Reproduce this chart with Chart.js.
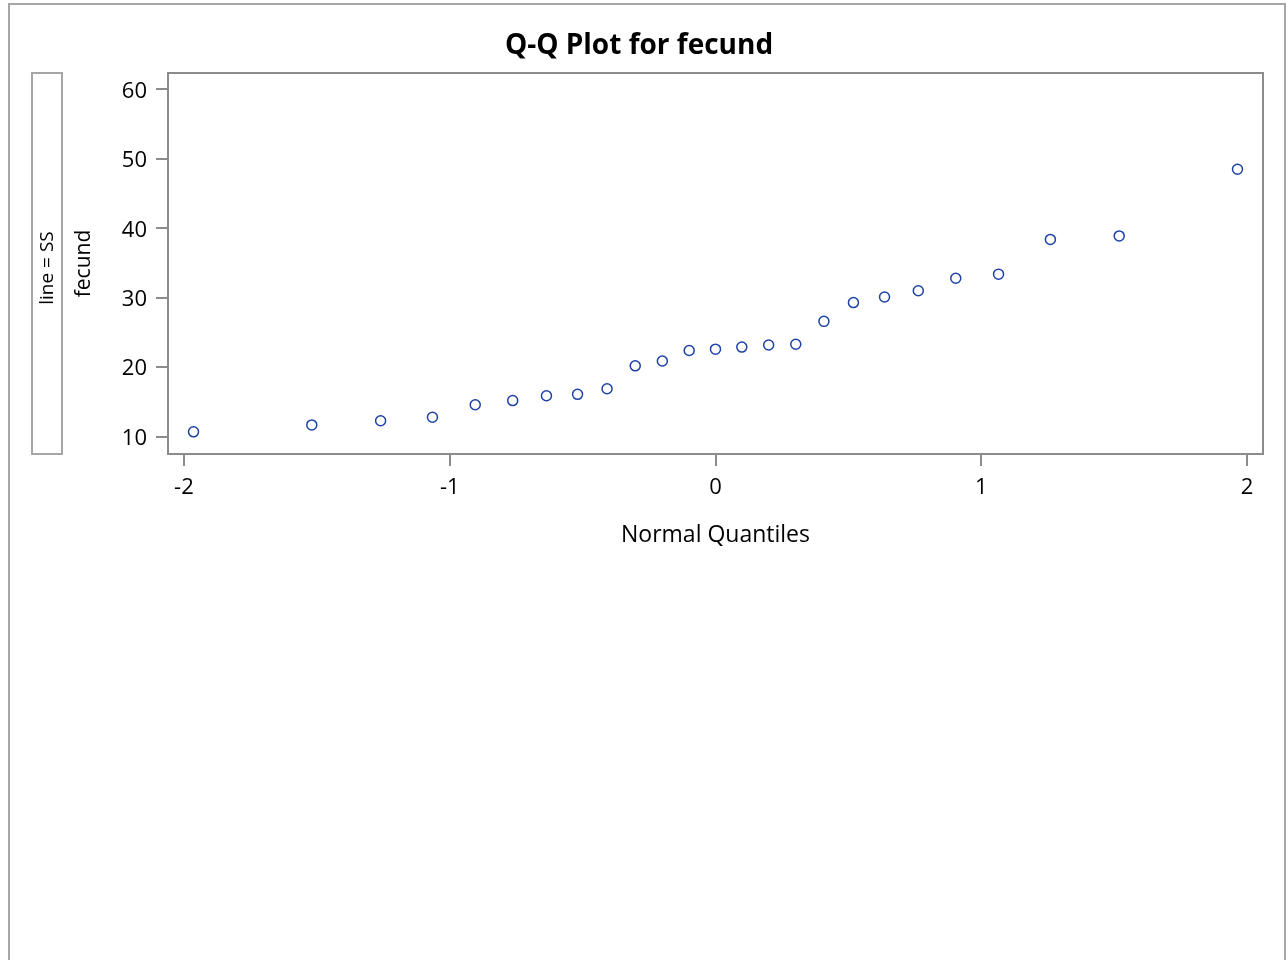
<!DOCTYPE html>
<html>
<head>
<meta charset="utf-8">
<title>Q-Q Plot for fecund</title>
<script src="https://cdn.jsdelivr.net/npm/chart.js@4.4.1/dist/chart.umd.min.js"></script>
<style>
  html, body { margin: 0; padding: 0; background: #fff; }
  #wrap { position: relative; width: 1288px; height: 960px; overflow: hidden; }
</style>
</head>
<body>
<div id="wrap"><canvas id="qq" width="1288" height="960"></canvas></div>
<script>
// normal quantiles (x) and sorted fecund values (y)
const quantiles = [-1.964, -1.519, -1.260, -1.065, -0.904, -0.763, -0.636, -0.519, -0.408, -0.302,
                   -0.200, -0.099, 0.000, 0.099, 0.200, 0.302, 0.408, 0.519, 0.636, 0.763,
                   0.904, 1.065, 1.260, 1.519, 1.964];
const fecund = [10.7, 11.7, 12.3, 12.8, 14.6, 15.2, 15.9, 16.1, 16.9, 20.2,
                20.9, 22.4, 22.6, 22.9, 23.2, 23.3, 26.6, 29.3, 30.1, 31.0,
                32.8, 33.4, 38.4, 38.9, 48.5];
const xTicks = [-2, -1, 0, 1, 2];
const yTicks = [10, 20, 30, 40, 50, 60];

const axisGray = '#8c8c8c';
const frameGray = '#a6a6a6';
const markerBlue = '#1d42a6';
const fontFamily = '"Open Sans", "DejaVu Sans", sans-serif';

// outer frame, title, panel label box, plot frame
const framePlugin = {
  id: 'frames',
  afterDraw(chart) {
    const ctx = chart.ctx;
    const a = chart.chartArea;
    ctx.save();
    ctx.lineWidth = 2;
    ctx.strokeStyle = frameGray;
    ctx.strokeRect(9, 4, 1276, 1000);
    ctx.strokeRect(32, a.top, 30, a.bottom - a.top);

    ctx.strokeStyle = axisGray;
    ctx.strokeRect(a.left, a.top, a.right - a.left, a.bottom - a.top);

    ctx.fillStyle = '#000';
    ctx.textAlign = 'center';
    ctx.textBaseline = 'middle';
    ctx.font = 'bold 28px ' + fontFamily;
    ctx.fillText('Q-Q Plot for fecund', 639, 46);

    ctx.font = '19px ' + fontFamily;
    ctx.translate(48, 268);
    ctx.rotate(-Math.PI / 2);
    ctx.fillText('line = SS', 0, 0);
    ctx.restore();
  }
};

const points = quantiles.map((q, i) => ({ x: q, y: fecund[i] }));

new Chart(document.getElementById('qq'), {
  type: 'scatter',
  data: {
    datasets: [{
      label: 'fecund',
      data: points,
      pointStyle: 'circle',
      pointRadius: 5,
      pointHoverRadius: 5,
      pointBorderWidth: 1.5,
      borderColor: markerBlue,
      backgroundColor: 'rgba(0,0,0,0)'
    }]
  },
  options: {
    responsive: false,
    animation: false,
    devicePixelRatio: 1,
    layout: { padding: { left: 0, right: 25, top: 73, bottom: 406 } },
    plugins: {
      legend: { display: false },
      tooltip: { enabled: false },
      title: { display: false }
    },
    scales: {
      x: {
        type: 'linear',
        min: -2.06,
        max: 2.06,
        afterFit: s => { s.height = 100; },
        afterBuildTicks: s => { s.ticks = xTicks.map(v => ({ value: v })); },
        grid: { display: true, drawOnChartArea: false, drawTicks: true, tickLength: 12, color: axisGray, lineWidth: 2 },
        border: { display: true, color: axisGray, width: 2 },
        ticks: { color: '#000', padding: 9, font: { family: fontFamily, size: 22 } },
        title: {
          display: true,
          text: 'Normal Quantiles',
          color: '#000',
          font: { family: fontFamily, size: 23 },
          padding: { top: 0, bottom: 5 }
        }
      },
      y: {
        type: 'linear',
        min: 7.51,
        max: 62.35,
        afterFit: s => { s.width = 168; },
        afterBuildTicks: s => { s.ticks = yTicks.map(v => ({ value: v })); },
        grid: { display: true, drawOnChartArea: false, drawTicks: true, tickLength: 12, color: axisGray, lineWidth: 2 },
        border: { display: true, color: axisGray, width: 2 },
        ticks: { color: '#000', padding: 9, labelOffset: 2, font: { family: fontFamily, size: 22 } },
        title: {
          display: true,
          text: 'fecund',
          color: '#000',
          font: { family: fontFamily, size: 21 },
          padding: { top: 71, bottom: 0 }
        }
      }
    }
  },
  plugins: [framePlugin]
});
</script>
</body>
</html>
